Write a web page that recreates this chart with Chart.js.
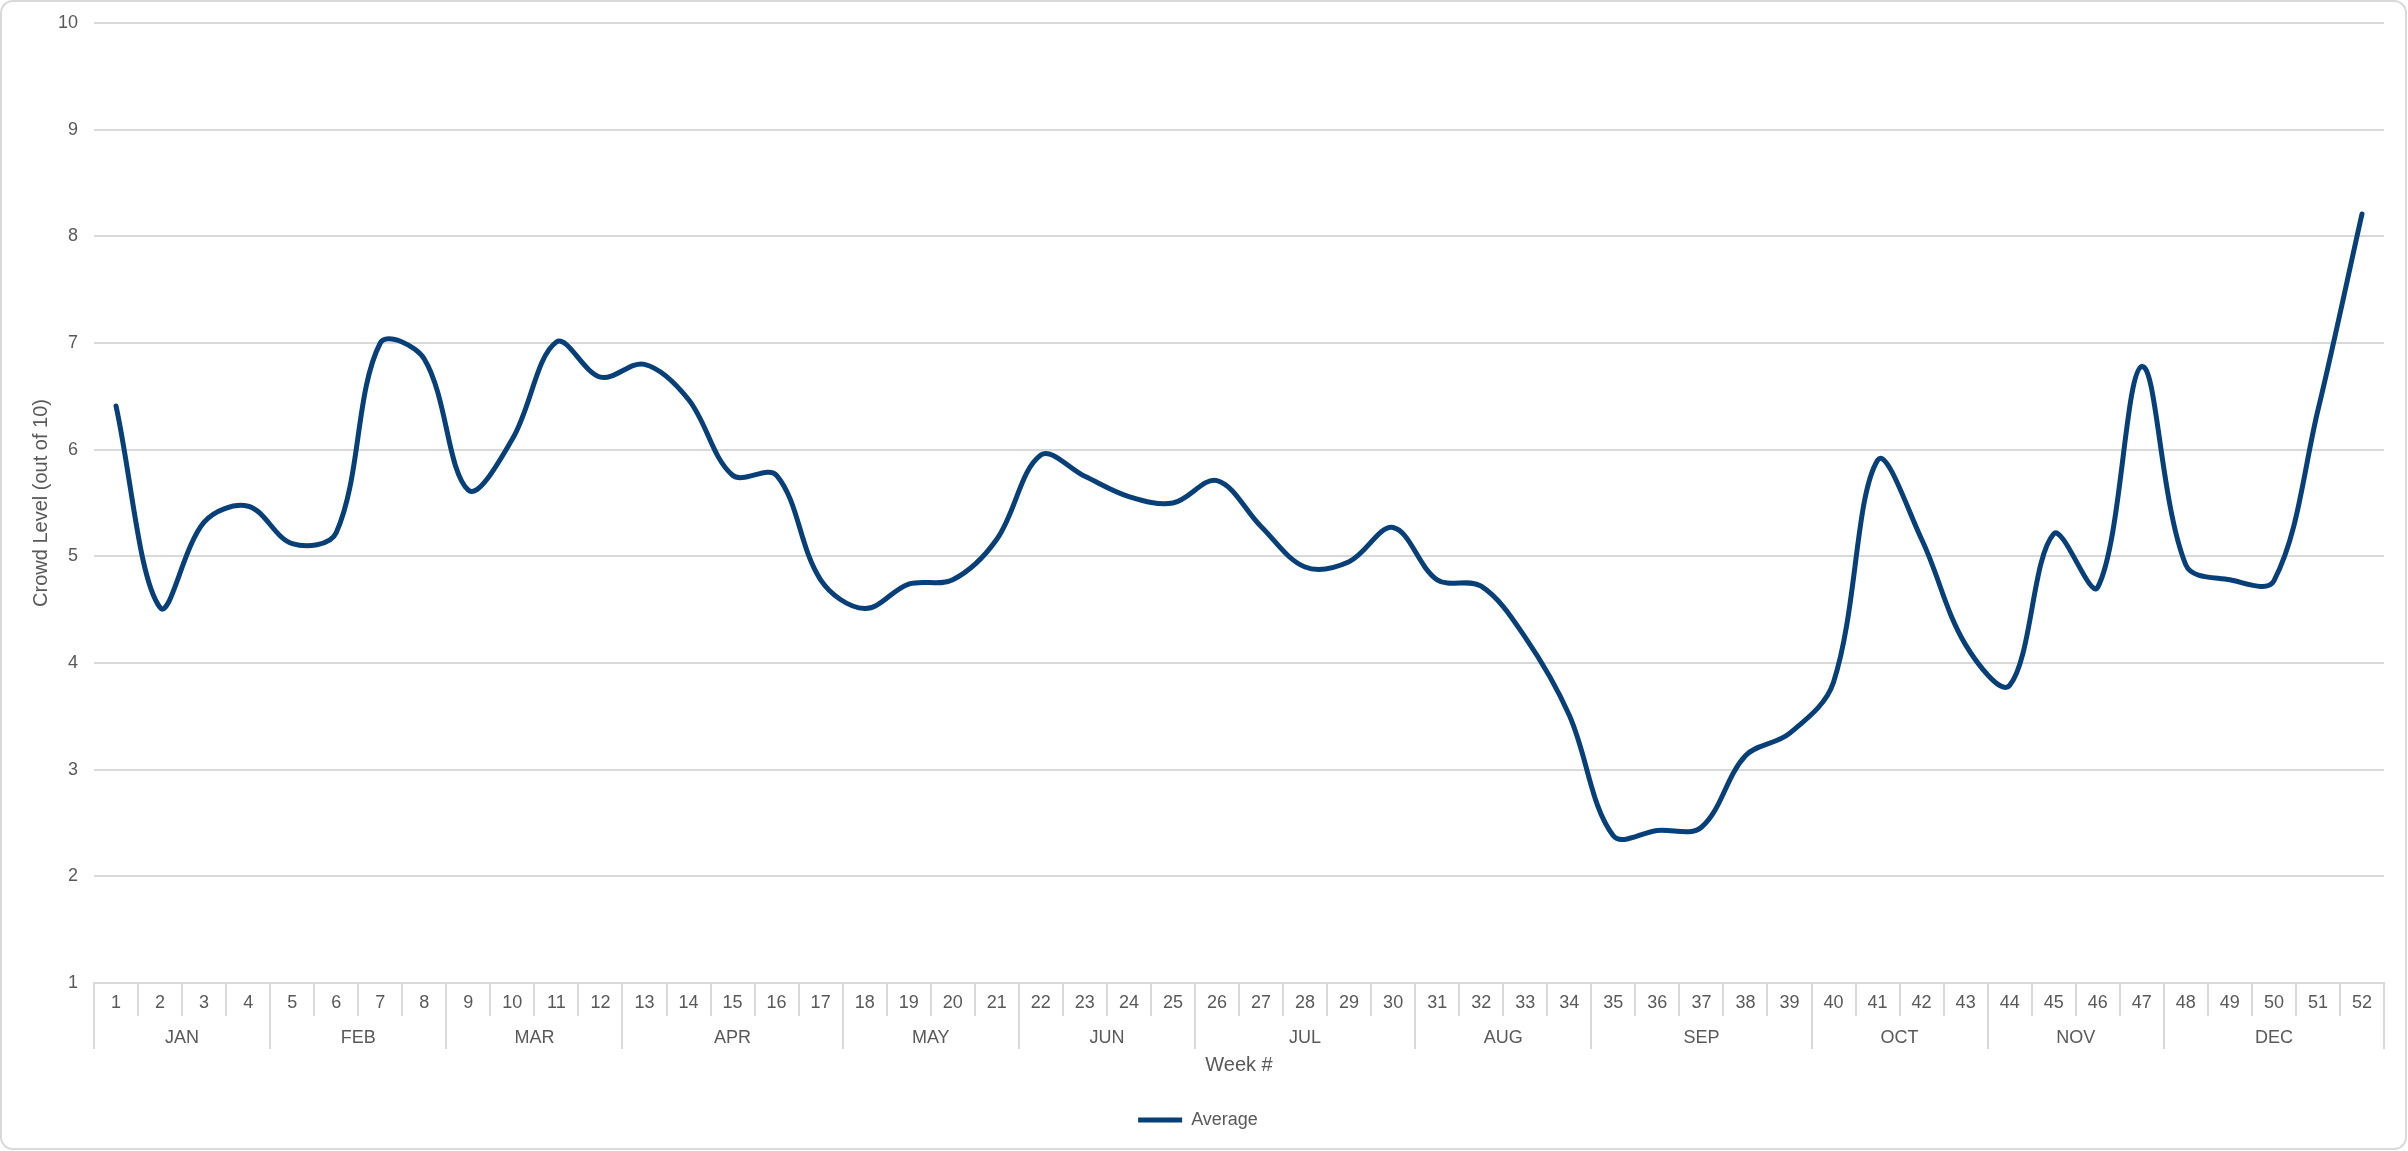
<!DOCTYPE html>
<html>
<head>
<meta charset="utf-8">
<script src="https://cdn.jsdelivr.net/npm/chart.js@4.4.1/dist/chart.umd.min.js"></script>
<style>
  html, body { margin: 0; padding: 0; background: #fff; }
  #wrap { width: 2408px; height: 1151px; position: relative; }
</style>
</head>
<body>
<div id="wrap"><canvas id="crowdChart"></canvas></div>
<script>
const weeks = ['1', '2', '3', '4', '5', '6', '7', '8', '9', '10', '11', '12', '13',
  '14', '15', '16', '17', '18', '19', '20', '21', '22', '23', '24', '25', '26',
  '27', '28', '29', '30', '31', '32', '33', '34', '35', '36', '37', '38', '39',
  '40', '41', '42', '43', '44', '45', '46', '47', '48', '49', '50', '51', '52'];
const months = ['JAN', 'FEB', 'MAR', 'APR', 'MAY', 'JUN', 'JUL', 'AUG', 'SEP', 'OCT', 'NOV', 'DEC'];
const weeksPerMonth = [4, 4, 4, 5, 4, 4, 5, 4, 5, 4, 4, 5];
const average = [6.41, 4.52, 5.32, 5.47, 5.12, 5.22, 7.0, 6.85, 5.62, 6.1, 7.01, 6.68, 6.8,
  6.47, 5.76, 5.76, 4.78, 4.51, 4.74, 4.78, 5.16, 5.95, 5.75, 5.56, 5.5, 5.71,
  5.28, 4.9, 4.95, 5.27, 4.78, 4.72, 4.24, 3.51, 2.38, 2.43, 2.46, 3.13, 3.34,
  3.82, 5.9, 5.16, 4.17, 3.79, 5.21, 4.71, 6.78, 4.92, 4.78, 4.77, 6.37, 8.21];

const gray = '#d9d9d9';
const textColor = '#595959';
const lineColor = '#073f78';
const fontFamily = '"Liberation Sans", Arial, sans-serif';

// rounded chart frame like the Excel chart area
const frame = {
  id: 'frame',
  beforeDraw(chart) {
    const ctx = chart.ctx;
    ctx.save();
    ctx.fillStyle = '#fff';
    ctx.fillRect(0, 0, chart.width, chart.height);
    ctx.strokeStyle = gray;
    ctx.lineWidth = 2;
    ctx.beginPath();
    ctx.roundRect(1, 1, chart.width - 3, chart.height - 3, 12);
    ctx.stroke();
    ctx.restore();
  }
};

// second row of the category axis: week separators + month groups
const monthAxis = {
  id: 'monthAxis',
  afterDraw(chart) {
    const x = chart.scales.x;
    const ctx = chart.ctx;
    const top = chart.chartArea.bottom;
    const bounds = new Set([0]);
    let acc = 0;
    weeksPerMonth.forEach(n => { acc += n; bounds.add(acc); });

    ctx.save();
    ctx.strokeStyle = gray;
    ctx.lineWidth = 2;
    for (let i = 0; i <= weeks.length; i++) {
      const px = Math.round(x.getPixelForValue(i - 0.5));
      ctx.beginPath();
      ctx.moveTo(px, top);
      ctx.lineTo(px, top + (bounds.has(i) ? 66 : 33));
      ctx.stroke();
    }

    ctx.fillStyle = textColor;
    ctx.font = '18px ' + fontFamily;
    ctx.textAlign = 'center';
    ctx.textBaseline = 'middle';
    let start = 0;
    months.forEach((m, k) => {
      const end = start + weeksPerMonth[k];
      const cx = (x.getPixelForValue(start - 0.5) + x.getPixelForValue(end - 0.5)) / 2;
      ctx.fillText(m, cx, top + 55);
      start = end;
    });
    ctx.restore();
  }
};

const ctx = document.getElementById('crowdChart').getContext('2d');
const crowdChart = new Chart(ctx, {
  type: 'line',
  data: {
    labels: weeks,
    datasets: [{
      label: 'Average',
      data: average,
      borderColor: lineColor,
      backgroundColor: lineColor,
      borderWidth: 5,
      borderCapStyle: 'round',
      borderJoinStyle: 'round',
      pointRadius: 0,
      tension: 0.35,
      fill: false
    }]
  },
  options: {
    responsive: true,
    maintainAspectRatio: false,
    animation: false,
    layout: {
      padding: { left: 12, right: 24, top: 23, bottom: 12 }
    },
    scales: {
      x: {
        type: 'category',
        offset: true,
        grid: { display: false, drawTicks: false },
        border: { display: true, color: gray, width: 2 },
        ticks: {
          color: textColor,
          font: { family: fontFamily, size: 18 },
          padding: 9,
          maxRotation: 0,
          autoSkip: false
        },
        title: {
          display: true,
          text: 'Week #',
          color: textColor,
          font: { family: fontFamily, size: 20 },
          padding: { top: 0, bottom: 24 }
        },
        afterFit: scale => { scale.height = 118; }
      },
      y: {
        min: 1,
        max: 10,
        ticks: {
          stepSize: 1,
          color: textColor,
          font: { family: fontFamily, size: 18 },
          padding: 16
        },
        grid: { color: gray, lineWidth: 2, drawTicks: false },
        border: { display: false },
        title: {
          display: true,
          text: 'Crowd Level (out of 10)',
          color: textColor,
          font: { family: fontFamily, size: 20 },
          padding: { top: 17, bottom: 0 }
        },
        afterFit: scale => {
          scale.width = 82;
          scale.paddingTop = 10;
          scale.paddingBottom = 10;
        }
      }
    },
    plugins: {
      legend: {
        position: 'bottom',
        labels: {
          color: textColor,
          font: { family: fontFamily, size: 18 },
          usePointStyle: true,
          pointStyle: 'line',
          pointStyleWidth: 44,
          padding: 10
        }
      },
      tooltip: { enabled: false }
    }
  },
  plugins: [frame, monthAxis]
});
</script>
</body>
</html>
